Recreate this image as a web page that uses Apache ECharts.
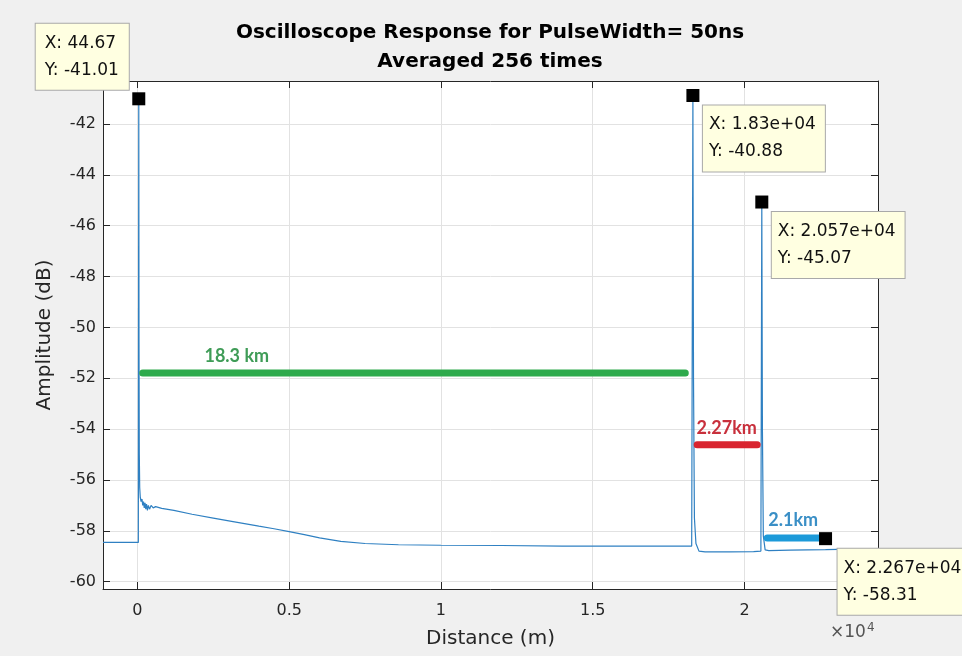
<!DOCTYPE html>
<html><head><meta charset="utf-8">
<script src="https://cdn.jsdelivr.net/npm/echarts@6/dist/echarts.min.js"></script>
<style>html,body{margin:0;padding:0;background:#f0f0f0}#c{width:962px;height:656px}</style>
</head><body><div id="c"></div>
<script>
// ---- data (distance in metres, amplitude in dB) ----
const distance = [-1134, -500, 30, 44.67, 52, 62, 75, 95, 120, 150, 175, 200, 225, 250, 275, 300, 330, 360, 400, 450, 520, 600, 800, 1200, 1800, 2500, 3150, 4000, 4500, 5000, 5500, 6000, 6700, 7500, 8600, 10000, 12000, 14000, 16000, 18000, 18260, 18300, 18320, 18350, 18400, 18500, 18700, 19500, 20300, 20540, 20570, 20590, 20620, 20680, 20800, 21500, 22670, 23500, 24398];
const amplitude = [-58.46, -58.46, -58.46, -41.01, -50.5, -55.0, -56.3, -56.7, -56.85, -56.75, -57.0, -56.85, -57.1, -56.9, -57.15, -56.95, -57.2, -57.0, -57.15, -57.0, -57.1, -57.05, -57.12, -57.2, -57.35, -57.5, -57.64, -57.82, -57.92, -58.03, -58.15, -58.28, -58.42, -58.5, -58.55, -58.57, -58.58, -58.6, -58.6, -58.6, -58.6, -40.88, -52.0, -57.5, -58.5, -58.8, -58.83, -58.83, -58.82, -58.8, -45.07, -54.0, -58.2, -58.75, -58.78, -58.76, -58.74, -58.72, -58.72];

const xRange = [-1134, 24398];
const yRange = [-60.29, -40.31];
const xTickValues = [0, 5000, 10000, 15000, 20000];
const xTickLabels = ['0', '0.5', '1', '1.5', '2'];
const yTickValues = [-60, -58, -56, -54, -52, -50, -48, -46, -44, -42];
const yTickLabels = ['-60', '-58', '-56', '-54', '-52', '-50', '-48', '-46', '-44', '-42'];

const tipX = [44.67, 18300, 20570, 22670];
const tipY = [-41.01, -40.88, -45.07, -58.31];
const tipXText = ['44.67', '1.83e+04', '2.057e+04', '2.267e+04'];
const tipYText = ['-41.01', '-40.88', '-45.07', '-58.31'];

const spanNames = ['18.3 km', '2.27km', '2.1km'];
const spanStart = [175, 18440, 20750];
const spanEnd = [18049, 20418, 22498];
const spanLevel = [-51.79, -54.62, -58.28];
const spanLabelX = [3274, 19413, 21605];
const spanLabelY = [-51.12, -53.95, -57.6];

// ---- styles ----
const spanLineColors = ['#2eaa4c', '#d9242f', '#1c9ad9'];
const spanTextColors = ['#3f9c57', '#c8303c', '#3a8fc6'];
const FONT = 'DejaVu Sans';
const TXT = '#262626';

const chart = echarts.init(document.getElementById('c'), null, {renderer: 'canvas'});

const series = [];
series.push({
  type: 'line', xAxisIndex: 0, yAxisIndex: 0, symbol: 'none', z: 3,
  data: distance.map((d, i) => [d, amplitude[i]]),
  lineStyle: {color: '#2f80c2', width: 1.2},
  animation: false
});
spanNames.forEach((n, i) => {
  series.push({
    type: 'line', symbol: 'none', z: 4,
    data: [[spanStart[i], spanLevel[i]], [spanEnd[i], spanLevel[i]]],
    lineStyle: {color: spanLineColors[i], width: 7, cap: 'round'},
    animation: false
  });
});
series.push({
  type: 'scatter', symbolSize: 0, z: 5,
  itemStyle: {opacity: 1},
  data: spanNames.map((n, i) => ({
    value: [spanLabelX[i], spanLabelY[i]], name: n,
    label: {color: spanTextColors[i]}
  })),
  label: {show: true, position: 'inside', formatter: p => p.name,
    fontFamily: 'Lato', fontWeight: 'bold', fontSize: 18},
  silent: true, animation: false
});
series.push({
  type: 'scatter', symbol: 'rect', symbolSize: 13, z: 6,
  itemStyle: {color: '#000', opacity: 1},
  data: tipX.map((x, i) => ({
    value: [x, tipY[i]],
    label: i === 0
      ? {position: [-3.5, -2.5], align: 'right', verticalAlign: 'bottom', padding: [6, 10, 6, 9]}
      : {position: [16.5 + (i === 3 ? 2 : 0), 16.5], align: 'left', verticalAlign: 'top'}
  })),
  label: {
    show: true,
    formatter: p => '{t|X: ' + tipXText[p.dataIndex] + '}\n{t|Y: ' + tipYText[p.dataIndex] + '}',
    rich: {t: {fontFamily: FONT, fontSize: 17, lineHeight: 27, color: '#111', align: 'left'}},
    fontFamily: FONT, fontSize: 17, lineHeight: 27, color: '#111',
    backgroundColor: '#ffffe1', borderColor: '#a9a9a9', borderWidth: 1,
    padding: [6, 9, 6, 6]
  },
  animation: false
});

const axisLineStyle = {show: true, onZero: false, lineStyle: {color: TXT, width: 1}};

chart.setOption({
  backgroundColor: '#f0f0f0',
  animation: false,
  title: [
    {text: 'Oscilloscope Response for PulseWidth= 50ns\nAveraged 256 times',
     left: 490, top: 18, textAlign: 'center', padding: 0,
     textStyle: {fontFamily: FONT, fontWeight: 'bold', fontSize: 20, lineHeight: 29, color: '#000'}},
    {text: '{a|×10}{b|4}', left: 830, top: 622, padding: 0,
     textStyle: {fontWeight: 'normal', rich: {
       a: {fontFamily: FONT, fontSize: 17, fontWeight: 'normal', color: '#555'},
       b: {fontFamily: FONT, fontSize: 12, fontWeight: 'normal', color: '#555', padding: [0, 0, 9, 1]}
     }}}
  ],
  grid: {left: 103, right: 84, top: 81, bottom: 67, show: true, backgroundColor: '#fff', borderWidth: 0},
  xAxis: [
    {type: 'value', position: 'bottom', min: xRange[0], max: xRange[1],
     axisLine: axisLineStyle,
     axisTick: {show: true, inside: true, length: 7, customValues: xTickValues, lineStyle: {color: TXT}},
     axisLabel: {customValues: xTickValues, formatter: v => xTickLabels[xTickValues.indexOf(v)],
       fontFamily: FONT, fontSize: 16, color: TXT, margin: 14},
     splitLine: {show: true, lineStyle: {color: '#e2e2e2', width: 1}},
     name: 'Distance (m)', nameLocation: 'middle', nameGap: 40,
     nameTextStyle: {fontFamily: FONT, fontSize: 20, color: TXT}},
    {type: 'value', position: 'top', min: xRange[0], max: xRange[1],
     axisLine: axisLineStyle,
     axisTick: {show: true, inside: true, length: 7, customValues: xTickValues, lineStyle: {color: TXT}},
     axisLabel: {show: false}, splitLine: {show: false}}
  ],
  yAxis: [
    {type: 'value', position: 'left', min: yRange[0], max: yRange[1],
     axisLine: axisLineStyle,
     axisTick: {show: true, inside: true, length: 7, customValues: yTickValues, lineStyle: {color: TXT}},
     axisLabel: {customValues: yTickValues, formatter: v => yTickLabels[yTickValues.indexOf(v)],
       fontFamily: FONT, fontSize: 16, color: TXT, margin: 7},
     splitLine: {show: true, lineStyle: {color: '#e2e2e2', width: 1}},
     name: 'Amplitude (dB)', nameLocation: 'middle', nameGap: 48,
     nameTextStyle: {fontFamily: FONT, fontSize: 20, color: TXT}},
    {type: 'value', position: 'right', min: yRange[0], max: yRange[1],
     axisLine: axisLineStyle,
     axisTick: {show: true, inside: true, length: 7, customValues: yTickValues, lineStyle: {color: TXT}},
     axisLabel: {show: false}, splitLine: {show: false}}
  ],
  series: series
});
</script>
</body></html>
